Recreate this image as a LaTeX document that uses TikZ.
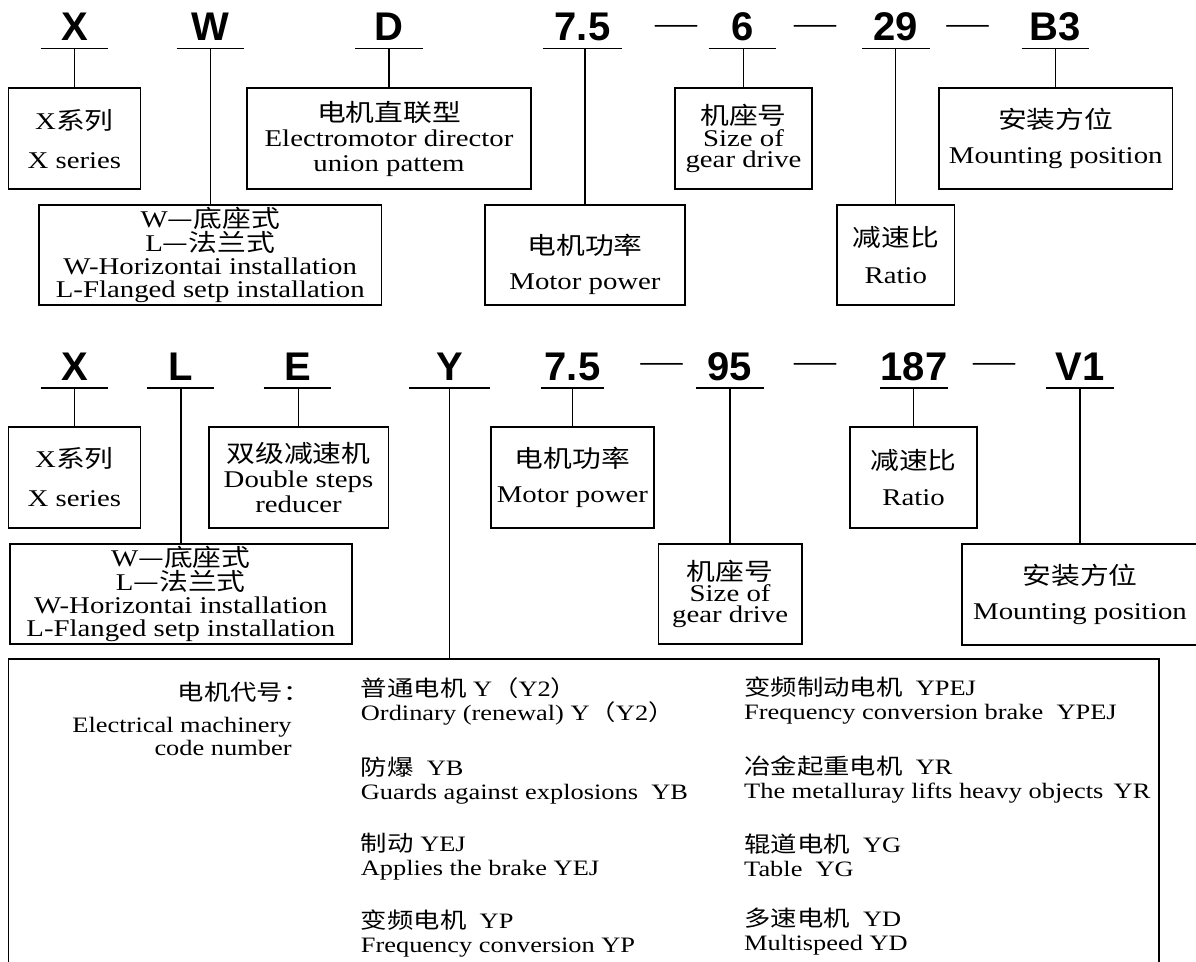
\documentclass[tikz,border=0pt]{standalone}
\usepackage{fontspec}
\setmainfont{Liberation Serif}[FakeStretch=1.2]
\newfontfamily\zhfont{Noto Sans CJK SC}[FakeStretch=1.2]
\newfontfamily\codfont{Liberation Sans}
\newcommand{\zh}[1]{{\zhfont #1}}

\tikzset{
  caja/.style={draw, line width=0.9pt, inner sep=0pt, align=center,
    execute at begin node={\lineskiplimit=-20pt}},
  codigo/.style={font=\codfont\bfseries\fontsize{20}{20}\selectfont,
    inner sep=0pt, text depth=3.7pt, anchor=base, minimum width=33.5pt},
  guion/.style={font=\fontsize{17.5}{17.5}\selectfont, inner sep=0pt, anchor=base},
  raya/.style={line width=0.7pt},
  lista/.style={align=left, anchor=west, inner sep=0pt,
    font=\fontsize{11}{12.25}\selectfont, execute at begin node={\lineskiplimit=-20pt}},
}

\begin{document}
\begin{tikzpicture}[x=0.5pt, y=-0.5pt]
  \useasboundingbox (0,0) rectangle (1196,962);

  % Fila 1: codigo
  \node[codigo] (cX1) at (74.5,40.9) {X};
  \node[codigo] (cW1) at (210.5,40.9) {W};
  \node[codigo] (cD1) at (389,40.9) {D};
  \node[codigo, minimum width=39.5pt] (cP1) at (582.5,40.9) {7.5};
  \node[guion] (g11) at (676,34.5) {—};
  \node[codigo] (cS1) at (742.5,40.9) {6};
  \node[guion] (g12) at (815,34.5) {—};
  \node[codigo] (cR1) at (896,40.9) {29};
  \node[guion] (g13) at (967.5,34.5) {—};
  \node[codigo] (cM1) at (1055.5,40.9) {B3};

  % Fila 1: cajas
  \node[caja, minimum width=66pt, minimum height=50.35pt, font=\fontsize{12}{19.5}\selectfont]
    (bX1) at (74.4,138.65) {X\zh{系列}\\X series};
  \node[caja, minimum width=142pt, minimum height=50.5pt, font=\fontsize{12}{12.5}\selectfont]
    (bD1) at (389,138.5) {\zh{电机直联型}\\Electromotor director\\union pattem};
  \node[caja, minimum width=171.25pt, minimum height=50pt, font=\fontsize{12}{11.5}\selectfont]
    (bW1) at (210.25,255) {W\zh{—底座式}\\[0.5pt]L\zh{—法兰式}\\W-Horizontai installation\\L-Flanged setp installation};
  \node[caja, minimum width=100pt, minimum height=50pt] (bP1) at (585,255) {};
  \node[align=center, inner sep=0pt, font=\fontsize{12}{17.5}\selectfont]
    (tP1) at (585,264.5) {\zh{电机功率}\\Motor power};
  \node[caja, minimum width=68.5pt, minimum height=50.5pt, font=\fontsize{12}{10.75}\selectfont]
    (bS1) at (743.5,138.5) {\zh{机座号}\\Size of\\gear drive};
  \node[caja, minimum width=58.75pt, minimum height=50pt, font=\fontsize{12}{18.5}\selectfont]
    (bR1) at (895.75,255) {\zh{减速比}\\Ratio};
  \node[caja, minimum width=116.75pt, minimum height=50.5pt, font=\fontsize{12}{17.5}\selectfont]
    (bM1) at (1055.75,138.5) {\zh{安装方位}\\Mounting position};

  \begin{scope}[raya]
    \foreach \c/\b in {cX1/bX1, cW1/bW1, cD1/bD1, cP1/bP1, cS1/bS1, cR1/bR1, cM1/bM1} {
      \draw (\c.south west) -- (\c.south east);
      \draw (\b.north) -- (\b.north |- \c.south);
    }
  \end{scope}

  % Fila 2: codigo
  \node[codigo] (cX2) at (74.5,380.3) {X};
  \node[codigo] (cL2) at (180.5,380.3) {L};
  \node[codigo] (cE2) at (297.5,380.3) {E};
  \node[codigo, minimum width=40.25pt] (cY2) at (449.75,380.3) {Y};
  \node[codigo, minimum width=31.5pt] (cP2) at (572.5,380.3) {7.5};
  \node[guion] (g21) at (661.5,372.5) {—};
  \node[codigo] (cS2) at (730,380.3) {95};
  \node[guion] (g22) at (815,372.5) {—};
  \node[codigo] (cR2) at (914,380.3) {187};
  \node[guion] (g23) at (994,372.5) {—};
  \node[codigo] (cM2) at (1080,380.3) {V1};

  % Fila 2: cajas
  \node[caja, minimum width=66pt, minimum height=50.5pt, font=\fontsize{12}{19.5}\selectfont]
    (bX2) at (74.4,477.5) {X\zh{系列}\\X series};
  \node[caja, minimum width=171.2pt, minimum height=50pt, font=\fontsize{12}{11.5}\selectfont]
    (bL2) at (180.8,594) {W\zh{—底座式}\\[0.5pt]L\zh{—法兰式}\\W-Horizontai installation\\L-Flanged setp installation};
  \node[caja, minimum width=89.9pt, minimum height=50.5pt, font=\fontsize{12}{12.5}\selectfont]
    (bE2) at (298.5,477.5) {\zh{双级减速机}\\Double steps\\reducer};
  \node[caja, minimum width=81.4pt, minimum height=50.5pt, font=\fontsize{12}{17.5}\selectfont]
    (bP2) at (572.4,477.5) {\zh{电机功率}\\Motor power};
  \node[caja, minimum width=71.7pt, minimum height=50pt, font=\fontsize{12}{10.5}\selectfont]
    (bS2) at (730.1,594) {\zh{机座号}\\Size of\\gear drive};
  \node[caja, minimum width=63.5pt, minimum height=50.5pt, font=\fontsize{12}{18}\selectfont]
    (bR2) at (913.5,477.5) {\zh{减速比}\\Ratio};
  \node[caja, minimum width=118pt, minimum height=50.5pt, font=\fontsize{12}{17.5}\selectfont]
    (bM2) at (1080,594.5) {\zh{安装方位}\\Mounting position};

  % Motor
  \node[caja, minimum width=575.15pt, minimum height=158pt] (bY2) at (583.55,817.3) {};
  \node[lista, align=right, anchor=east, font=\fontsize{11}{11.5}\selectfont]
    (tCod) at (292,719) {\zh{电机代号：}\hspace*{-9pt}\\[4.5pt]Electrical machinery\\code number};

  \node[lista] (e11) at (360.5,701.5) {\zh{普通电机} Y\zh{（}Y2\zh{）}\\Ordinary (renewal) Y\zh{（}Y2\zh{）}};
  \node[lista] (e12) at (360.5,780.5) {\zh{防爆}\ \ YB\\Guards against explosions\ \ YB};
  \node[lista] (e13) at (360.5,856.5) {\zh{制动} YEJ\\Applies the brake YEJ};
  \node[lista] (e14) at (360.5,933.5) {\zh{变频电机}\ \ YP\\Frequency conversion YP};
  \node[lista] (e21) at (743.8,700.5) {\zh{变频制动电机}\ \ YPEJ\\Frequency conversion brake\ \ YPEJ};
  \node[lista] (e22) at (743.8,779.5) {\zh{冶金起重电机}\ \ YR\\The metalluray lifts heavy objects\,\ YR};
  \node[lista] (e23) at (743.8,855.5) {\zh{辊道电机}\ \ YG\\Table\ \ YG};
  \node[lista] (e24) at (743.8,931.5) {\zh{多速电机}\ \ YD\\Multispeed YD};

  \begin{scope}[raya]
    \foreach \c/\b in {cX2/bX2, cL2/bL2, cE2/bE2, cP2/bP2, cS2/bS2, cR2/bR2, cM2/bM2} {
      \draw (\c.south west) -- (\c.south east);
      \draw (\b.north) -- (\b.north |- \c.south);
    }
    \draw (cY2.south west) -- (cY2.south east);
    \draw (cY2.south) -- (cY2.south |- bY2.north);
  \end{scope}
\end{tikzpicture}
\end{document}
